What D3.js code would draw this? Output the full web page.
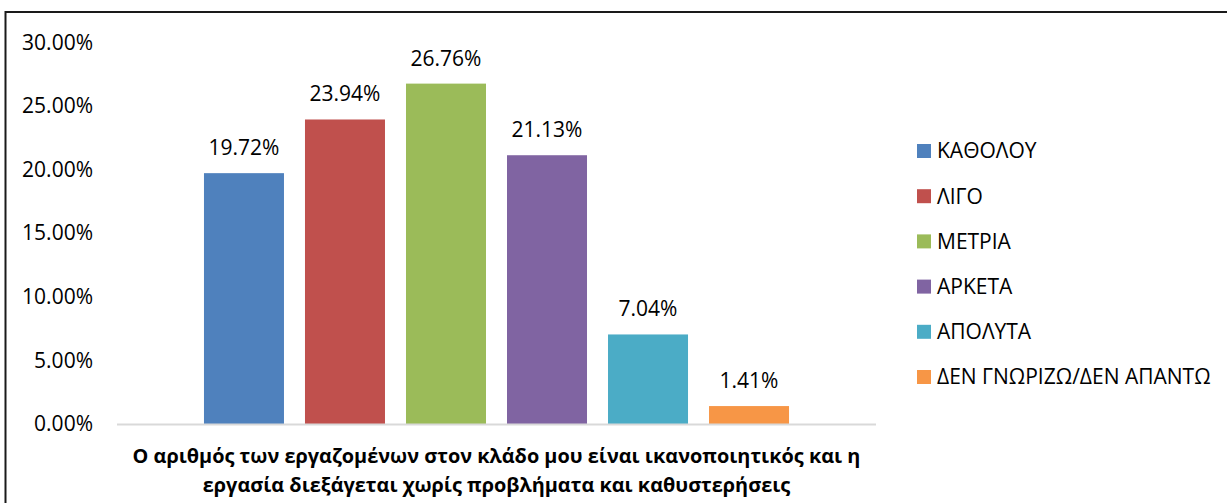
<!DOCTYPE html>
<html>
<head>
<meta charset="utf-8">
<script src="https://cdn.jsdelivr.net/npm/d3@7"></script>
<style>
  html, body { margin: 0; padding: 0; background: #fff; }
  svg { display: block; font-family: "Open Sans", "Noto Sans", sans-serif; }
</style>
</head>
<body>
<svg id="chart" width="1227" height="503"></svg>
<script>
// Response categories (one bar each) and their shares in percent
const categories = ["ΚΑΘΟΛΟΥ", "ΛΙΓΟ", "ΜΕΤΡΙΑ", "ΑΡΚΕΤΑ", "ΑΠΟΛΥΤΑ", "ΔΕΝ ΓΝΩΡΙΖΩ/ΔΕΝ ΑΠΑΝΤΩ"];
const values = [19.72, 23.94, 26.76, 21.13, 7.04, 1.41];
const colors = ["#4F81BD", "#C0504D", "#9BBB59", "#8064A2", "#4BACC6", "#F79646"];
const yTicks = [0, 5, 10, 15, 20, 25, 30];
const titleLines = [
  "Ο αριθμός των εργαζομένων στον κλάδο μου είναι ικανοποιητικός και η",
  "εργασία διεξάγεται χωρίς προβλήματα και καθυστερήσεις"
];

const svg = d3.select("#chart");
const plot = { left: 117, right: 876, top: 42.4, bottom: 424 };
const labelSize = 21;

// Outer frame
svg.append("rect")
  .attr("x", 5.5).attr("y", 12)
  .attr("width", 1240).attr("height", 520)
  .attr("fill", "#fff")
  .attr("stroke", "#1a1a1a")
  .attr("stroke-width", 2);

const x = d3.scaleBand()
  .domain(categories)
  .range([plot.left, plot.right])
  .paddingInner(0.208)
  .paddingOuter(0.861);

const y = d3.scaleLinear()
  .domain([0, 30])
  .range([plot.bottom, plot.top]);

// Y axis: labels only, no line or tick marks
const yAxis = d3.axisLeft(y)
  .tickValues(yTicks)
  .tickFormat(d => d.toFixed(2) + "%")
  .tickSize(0)
  .tickPadding(0);

const gy = svg.append("g")
  .attr("transform", "translate(93,0)")
  .call(yAxis);
gy.select(".domain").remove();
gy.selectAll("text")
  .attr("font-family", "'Open Sans', 'Noto Sans', sans-serif")
  .attr("font-size", labelSize)
  .attr("fill", "#000");

// Bars
svg.append("g").selectAll("rect")
  .data(values)
  .join("rect")
  .attr("x", (d, i) => x(categories[i]))
  .attr("y", d => y(d))
  .attr("width", x.bandwidth())
  .attr("height", d => y(0) - y(d))
  .attr("fill", (d, i) => colors[i]);

// Baseline
svg.append("line")
  .attr("x1", plot.left).attr("x2", plot.right)
  .attr("y1", y(0) + 0.5).attr("y2", y(0) + 0.5)
  .attr("stroke", "#d9d9d9")
  .attr("stroke-width", 2);

// Value labels above bars
svg.append("g").selectAll("text")
  .data(values)
  .join("text")
  .attr("x", (d, i) => x(categories[i]) + x.bandwidth() / 2)
  .attr("y", d => y(d) - 18)
  .attr("text-anchor", "middle")
  .attr("font-size", labelSize)
  .attr("fill", "#000")
  .text(d => d.toFixed(2) + "%");

// Category title under the axis
const titleCenter = (plot.left + plot.right) / 2;
const title = svg.append("g");
title.selectAll("text")
  .data(titleLines)
  .join("text")
  .attr("x", titleCenter)
  .attr("y", (d, i) => 463 + i * 28.5)
  .attr("text-anchor", "middle")
  .attr("font-weight", "bold")
  .attr("font-size", 19)
  .attr("fill", "#000")
  .text(d => d);
// size the title so its first line spans 728px
const firstLine = title.select("text").node();
const w = firstLine.getComputedTextLength();
const fs = 19 * 728 / w;
title.selectAll("text").attr("font-size", fs);

// Legend
const legend = svg.append("g").attr("transform", "translate(917,151)");
const items = legend.selectAll("g")
  .data(categories)
  .join("g")
  .attr("transform", (d, i) => `translate(0,${i * 45.2})`);
items.append("rect")
  .attr("x", 0).attr("y", -7)
  .attr("width", 14).attr("height", 14)
  .attr("fill", (d, i) => colors[i]);
items.append("text")
  .attr("x", 20)
  .attr("dy", "0.35em")
  .attr("font-size", labelSize)
  .attr("fill", "#000")
  .text(d => d);
</script>
</body>
</html>
